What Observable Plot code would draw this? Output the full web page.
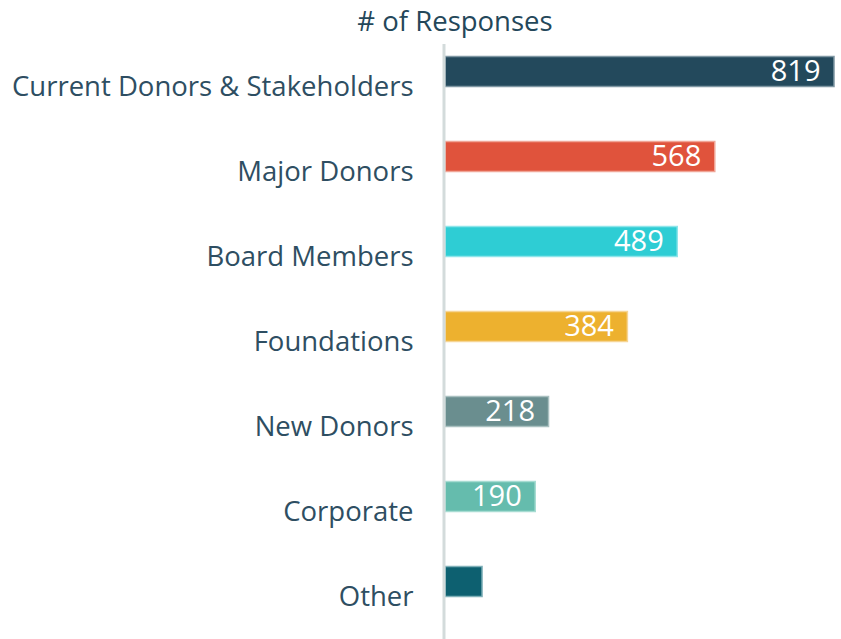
<!DOCTYPE html>
<html>
<head>
<meta charset="utf-8">
<script src="https://cdn.jsdelivr.net/npm/d3@7"></script>
<script src="https://cdn.jsdelivr.net/npm/@observablehq/plot@0.6"></script>
<style>
  html, body { margin: 0; padding: 0; background: #fff; overflow: hidden; }
  #title { height: 40px; width: 841px; position: relative; font-family: "Open Sans", sans-serif; font-size: 27.5px; color: #24475a; }
  #title span { position: absolute; left: 455px; top: 20px; transform: translate(-50%, -50%); white-space: nowrap; }
  #chart svg { display: block; }
</style>
</head>
<body>
<div id="title"><span># of Responses</span></div>
<div id="chart"></div>
<script>
const categories = ["Current Donors & Stakeholders", "Major Donors", "Board Members", "Foundations", "New Donors", "Corporate", "Other"];
const responses = [819, 568, 489, 384, 218, 190, 78];
const showLabel = [true, true, true, true, true, true, false];
const fills = ["#23495c", "#e0533c", "#2ecdd4", "#edb12f", "#6a8e8f", "#65bcad", "#0d6070"];
const strokes = ["#7f97a3", "#f0a596", "#8ee5ea", "#f6d595", "#a9c0c0", "#a7dcd2", "#7fb0b8"];

const data = categories.map((c, i) => ({category: c, value: responses[i], fill: fills[i], stroke: strokes[i], show: showLabel[i]}));

const chart = Plot.plot({
  width: 841,
  height: 599,
  marginLeft: 445,
  marginRight: 7,
  marginTop: 4,
  marginBottom: 0,
  style: {fontFamily: "'Open Sans', sans-serif", fontSize: "27.5px", color: "#2e4e62", background: "#fff"},
  x: {domain: [0, 819], axis: null},
  y: {domain: categories, padding: 0, label: null, tickSize: 0, tickPadding: 32},
  marks: [
    Plot.barX(data, {y: "category", x: "value", fill: d => d.fill, stroke: d => d.stroke, strokeWidth: 1.5, insetTop: 12.5, insetBottom: 42.5, insetRight: 0}),
    Plot.text(data.filter(d => d.show), {y: "category", x: "value", text: d => String(d.value), textAnchor: "end", dx: -14, dy: -15, fill: "#fff", fontSize: 29}),
    Plot.ruleX([0], {stroke: "#d3dbdb", strokeWidth: 3, dx: -1.5, y1: null, y2: null})
  ]
});
chart.querySelectorAll("[aria-label='y-axis tick label'] text").forEach(t => t.setAttribute("fill", "#2e4e62"));
document.getElementById("chart").appendChild(chart);
</script>
</body>
</html>
